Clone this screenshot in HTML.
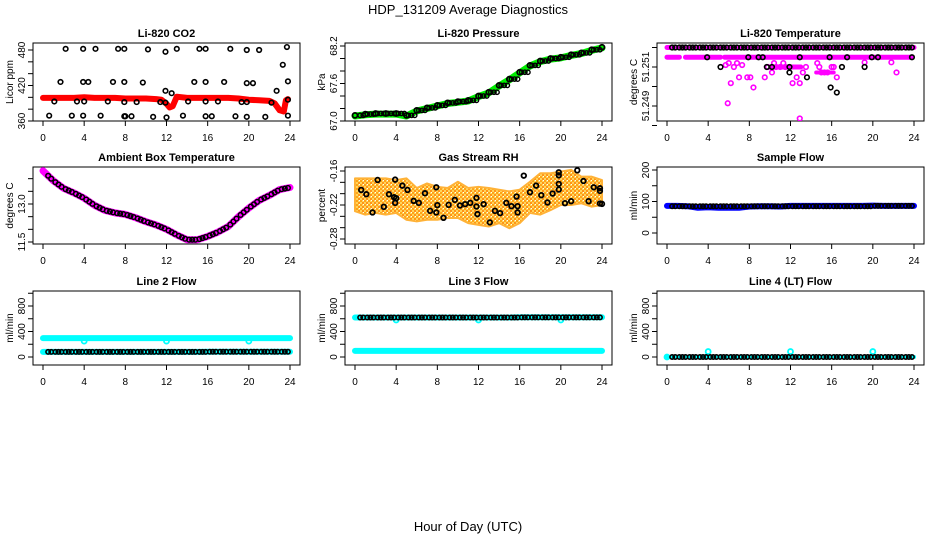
<!DOCTYPE html>
<html><head><meta charset="utf-8">
<style>
html,body{margin:0;padding:0;background:#fff;}
svg{display:block;font-family:"Liberation Sans",Arial,sans-serif;}
</style></head>
<body>
<svg id="chart" width="936" height="540" viewBox="0 0 936 540">
<text x="468" y="14" text-anchor="middle" font-size="13">HDP_131209  Average Diagnostics</text>
<text x="468" y="531" text-anchor="middle" font-size="13">Hour of Day (UTC)</text>
</svg>
<script>
// ---- shared data ----
const xTicks=[0,4,8,12,16,20,24];
const hours=[0,1,2,3,4,5,6,7,8,9,10,11,12,13,14,15,16,17,18,19,20,21,22,23,24];
const sampleTimes=[0.5,0.8,1.2,1.5,1.8,2.2,2.5,2.8,3.2,3.5,3.8,4.2,4.5,4.8,5.2,5.5,5.8,6.2,6.5,6.8,7.2,7.5,7.8,8.2,8.5,8.8,9.2,9.5,9.8,10.2,10.5,10.8,11.2,11.5,11.8,12.2,12.5,12.8,13.2,13.5,13.8,14.2,14.5,14.8,15.2,15.5,15.8,16.2,16.5,16.8,17.2,17.5,17.8,18.2,18.5,18.8,19.2,19.5,19.8,20.2,20.5,20.8,21.2,21.5,21.8,22.2,22.5,22.8,23.2,23.5,23.8];

// CO2
const co2RedTimes=[0,1,2,3,4,5,6,7,8,9,10,11,11.5,12,12.3,12.6,13,14,15,16,17,18,19,20,21,22,22.5,23,23.4,23.6,23.8];
const co2Red=[399,399,399,399,400,399,399,399,398,398,398,397,396,389,383,385,401,399,399,399,399,399,398,396,395,394,390,378,376,395,397];
const co2BlackTimes=[0.6,1.1,1.7,2.2,2.8,3.3,3.9,3.9,3.9,4,4.4,5.1,5.6,6.3,6.8,7.3,7.9,7.9,7.9,7.9,8.0,8.6,9.1,9.7,10.2,10.7,11.4,11.9,11.9,11.9,12.0,12.5,13.0,13.6,14.1,14.7,15.2,15.8,15.8,15.8,15.8,16.4,17,17.6,18.2,18.7,19.3,19.8,19.8,19.8,19.8,20.4,21,21.6,22.2,22.7,23.3,23.7,23.8,23.8,23.8];
const co2Black=[369,393,426,482,369,393,482,369,426,393,426,482,369,393,426,482,482,426,392,368,368,368,392,425,481,367,392,477,411,391,366,407,482,369,393,426,482,482,426,393,368,368,393,426,482,368,392,480,424,392,367,424,480,367,391,411,455,485,427,396,369];
const co2Ticks=[360,380,400,420,440,460,480];
const co2Labels=[360,420,480];

// Pressure
const pressGreen=[67.08,67.10,67.11,67.11,67.11,67.08,67.16,67.20,67.24,67.28,67.30,67.32,67.39,67.45,67.56,67.66,67.77,67.88,67.95,67.99,68.01,68.05,68.08,68.13,68.17];
const pressBlack=[67.09,67.11,67.12,67.12,67.12,67.09,67.17,67.21,67.25,67.29,67.31,67.33,67.40,67.46,67.57,67.67,67.78,67.89,67.96,68.00,68.02,68.06,68.09,68.14,68.18];
const pressTicks=[67.0,67.2,67.4,67.6,67.8,68.0,68.2];
const pressLabels=["67.0","67.6","68.2"];

// Li-820 temperature
const tempMagTimes=[5.7,5.9,6.2,6.5,7.0,7.3,7.8,8.1,8.4,9.5,9.8,10.2,10.6,11.0,11.5,12.2,12.6,12.9,12.9,13.2,13.5,14.6,15.0,15.3,15.6,16.0,16.5,19.2,21.8,22.3,6.0,6.8,10.4,11.3,14.8,16.2];
const tempMag=[51.2511,51.24914,51.25017,51.251,51.25047,51.2511,51.25047,51.25047,51.24995,51.25047,51.251,51.25072,51.251,51.251,51.251,51.25017,51.25047,51.25017,51.24836,51.25072,51.251,51.2512,51.25072,51.25072,51.25072,51.251,51.25047,51.25124,51.25124,51.25072,51.2512,51.2512,51.2512,51.2512,51.251,51.251];
const tempBlack2Times=[3.9,7.9,8.9,9.3,12.9,15.8,17.5,19.9,20.5,23.8];
const tempBlack3Times=[5.2,9.7,10.2,11.9,17.0,19.2];
const tempBlackLowTimes=[11.9,13.6,15.9,16.5];
const tempBlackLow=[51.25072,51.25047,51.24995,51.24969];
const tempTicks=[51.248,51.249,51.250,51.251,51.252];
const tempLabels=["51.249","51.251"];

// Ambient box temperature
const ambMag=[14.31,13.92,13.62,13.44,13.23,12.95,12.75,12.65,12.59,12.46,12.30,12.17,12.00,11.78,11.59,11.59,11.72,11.89,12.11,12.50,12.84,13.14,13.34,13.57,13.65];
const ambTicks=[11.5,12.0,12.5,13.0,13.5,14.0];
const ambLabels=["11.5","13.0"];

// Gas stream RH
const rhUpper=[-0.173,-0.173,-0.173,-0.173,-0.176,-0.173,-0.190,-0.182,-0.188,-0.190,-0.179,-0.190,-0.188,-0.190,-0.193,-0.196,-0.193,-0.179,-0.164,-0.164,-0.161,-0.158,-0.170,-0.170,-0.176];
const rhLower=[-0.231,-0.237,-0.234,-0.237,-0.234,-0.246,-0.249,-0.246,-0.246,-0.243,-0.243,-0.252,-0.255,-0.258,-0.252,-0.261,-0.252,-0.234,-0.237,-0.229,-0.220,-0.220,-0.217,-0.223,-0.220];
const rhBlackTimes=[0.6,1.1,1.7,2.2,2.8,3.3,3.8,3.9,3.9,4,4.6,5.1,5.7,6.2,6.8,7.3,7.9,7.9,8,8.6,9.1,9.7,10.2,10.7,11.2,11.8,11.8,11.9,12.5,13.1,13.6,14.1,14.7,15.2,15.7,15.8,15.8,16.4,17.0,17.6,18.1,18.7,19.2,19.8,19.8,19.8,19.8,20.4,21.0,21.6,22.2,22.7,23.2,23.8,23.8,23.8,24.0];
const rhBlack=[-0.1934,-0.2010,-0.2332,-0.1758,-0.2232,-0.2010,-0.2063,-0.1752,-0.2162,-0.2080,-0.1858,-0.1934,-0.2127,-0.2162,-0.1992,-0.2303,-0.1887,-0.2332,-0.2203,-0.2426,-0.2197,-0.2109,-0.2209,-0.2185,-0.2162,-0.2074,-0.2226,-0.2361,-0.2185,-0.2507,-0.2303,-0.2344,-0.2162,-0.2221,-0.2051,-0.2221,-0.2332,-0.1682,-0.1975,-0.1858,-0.2027,-0.2156,-0.1998,-0.1928,-0.1828,-0.1623,-0.1676,-0.2168,-0.2133,-0.1588,-0.1776,-0.2133,-0.1887,-0.1904,-0.1951,-0.2174,-0.2180];
const rhTicks=[-0.28,-0.26,-0.24,-0.22,-0.20,-0.18,-0.16];
const rhLabels=["-0.28","-0.22","-0.16"];

// Sample flow
const sampleBlue=[86,86,85,80,82,80,80,80,84,85,85,84,86,86,86,86,86,86,86,86,87,86,86,86,86];
const sampleBlack=[85,85,85,85,85,85,85,85,85,85,85,85,85,85,85,85,85,85,85,85,86,86,86,86,86];
const sampleTicks=[0,50,100,150,200];
const sampleLabels=[0,100,200];

// Line flows
const flowTicks=[0,200,400,600,800,1000];
const flowLabels=[0,400,800];
const line2CyanHigh=[296,296,296,296,296,296,296,296,296,296,296,296,296,296,296,296,296,296,296,296,296,296,296,296,296];
const line2DipTimes=[4,12,20];
const line2Dip=[250,250,250];
const line2Low=[80,80,80,80,80,80,80,80,80,80,80,80,80,80,80,80,82,82,82,82,82,82,82,82,82];
const line3CyanHigh=[620,620,620,620,620,620,620,620,620,620,620,620,620,620,620,620,622,622,622,622,622,622,622,622,622];
const line3DipTimes=[4,12,20];
const line3Dip=[580,580,580];
const line3Low=[95,95,95,95,95,95,95,95,95,95,95,95,95,95,95,95,95,95,95,95,95,95,95,95,95];
const line4Black=[0,0,0,0,0,0,0,0,0,0,0,0,0,0,0,0,0,0,0,0,0,0,0,0,0];
const line4CyanTimes=[0,4,12,20];
const line4Cyan=[0,85,85,85];

// ---- drawing ----
const NS="http://www.w3.org/2000/svg";
const svg=document.getElementById('chart');
const rowTop=[43,167,291], rowBot=[121,244,365];
function mk(tag,attrs,parent){const e=document.createElementNS(NS,tag);for(const k in attrs)e.setAttribute(k,attrs[k]);(parent||svg).appendChild(e);return e;}
function sxf(c){return t=>43+312*c+t*(247/24);}
function syf(v1,p1,v2,p2){return v=>p1+(v-v1)*(p2-p1)/(v2-v1);}

function panel(c,r,title,ylab,sy,ticks,labels,name){
  const g=mk('g',{});
  
  
  const x0=33+312*c,x1=300+312*c,y0=rowTop[r],y1=rowBot[r];
  const sx=sxf(c);
  const box=mk('rect',{x:x0,y:y0,width:x1-x0,height:y1-y0,fill:'none',stroke:'#000','stroke-width':1},g);
  
  
  const t=mk('text',{x:(x0+x1)/2,y:y0-6,'text-anchor':'middle','font-size':11,'font-weight':'bold'},g);
  t.textContent=title;
  
  
  const yl=mk('text',{x:0,y:0,'text-anchor':'middle','font-size':10,transform:`translate(${x0-20},${(y0+y1)/2}) rotate(-90)`},g);
  yl.textContent=ylab;
  
  
  xTicks.forEach(v=>{
    const x=sx(v);
    mk('line',{x1:x,y1:y1,x2:x,y2:y1+5,stroke:'#000'},g);
    const tx=mk('text',{x:x,y:y1+20,'text-anchor':'middle','font-size':10},g);
    tx.textContent=v;
    
    
  });
  ticks.forEach(v=>{const y=sy(v);mk('line',{x1:x0,y1:y,x2:x0-5,y2:y,stroke:'#000'},g);});
  labels.forEach(v=>{
    const y=sy(parseFloat(v));
    const tx=mk('text',{x:0,y:0,'text-anchor':'middle','font-size':10,transform:`translate(${x0-8},${y}) rotate(-90)`},g);
    tx.textContent=v;
    
    
  });
  const clip=mk('clipPath',{id:'clip'+name},g);
  mk('rect',{x:x0,y:y0,width:x1-x0,height:y1-y0},clip);
  const d=mk('g',{'clip-path':`url(#clip${name})`},g);
  return {g:d,sx,sy};
}
function band(P,ts,vs,color,w,name){
  const pts=ts.map((t,i)=>P.sx(t).toFixed(1)+','+P.sy(vs[i]).toFixed(1)).join(' ');
  const e=mk('polyline',{points:pts,fill:'none',stroke:color,'stroke-width':w,'stroke-linejoin':'round','stroke-linecap':'round'},P.g);
  
  
}
function pts(P,ts,vs,stroke,r,sw,name){
  ts.forEach((t,i)=>{
    const e=mk('circle',{cx:P.sx(t),cy:P.sy(vs[i]),r:r,fill:'none',stroke:stroke,'stroke-width':sw},P.g);
    
    
  });
}
function stepVal(arr,t){return arr[Math.min(24,Math.floor(t))];}

// Panel 1: CO2
let P=panel(0,0,'Li-820 CO2','Licor ppm',syf(360,121,480,50),co2Ticks,co2Labels,'co2');
band(P,co2RedTimes,co2Red,'#ff0000',6,'co2-red-series');
pts(P,co2BlackTimes,co2Black,'#000',2.3,1.6,'co2-black-point');

// Panel 2: Pressure
P=panel(1,0,'Li-820 Pressure','kPa',syf(67.0,121,68.2,46),pressTicks,pressLabels,'pressure');
band(P,hours,pressGreen,'#00ee00',7,'pressure-green-series');
pts(P,hours,pressBlack,'#000',2.5,1.8,'pressure-black-point');
pts(P,sampleTimes,sampleTimes.map(t=>stepVal(pressBlack,t)),'#000',2.2,1.4,'pressure-black-point');

// Panel 3: Li-820 temperature
P=panel(2,0,'Li-820 Temperature','degrees C',syf(51.249,106,51.251,67),tempTicks,tempLabels,'li820temp');
band(P,[0,24],[51.252,51.252],'#ff00ff',5,'temp-magenta-top');
band(P,[0,1.2],[51.2515,51.2515],'#ff00ff',5,'temp-magenta-row2');
band(P,[1.8,5.2],[51.2515,51.2515],'#ff00ff',5,'temp-magenta-row2');
band(P,[5.6,23.8],[51.2515,51.2515],'#ff00ff',5,'temp-magenta-row2');
band(P,[10.2,13.0],[51.251,51.251],'#ff00ff',5,'temp-magenta-row3');
band(P,[14.5,16.2],[51.25072,51.25072],'#ff00ff',4,'temp-magenta-row3');
pts(P,tempMagTimes,tempMag,'#ff00ff',2.3,1.6,'temp-magenta-point');
pts(P,sampleTimes,sampleTimes.map(()=>51.252),'#000',2.3,1.6,'temp-black-point');
pts(P,tempBlack2Times,tempBlack2Times.map(()=>51.2515),'#000',2.3,1.6,'temp-black-point');
pts(P,tempBlack3Times,tempBlack3Times.map(()=>51.251),'#000',2.3,1.6,'temp-black-point');
pts(P,tempBlackLowTimes,tempBlackLow,'#000',2.3,1.6,'temp-black-point');

// Panel 4: Ambient
P=panel(0,1,'Ambient Box Temperature','degrees C',syf(11.5,242,13.0,204),ambTicks,ambLabels,'ambient');
band(P,hours,ambMag,'#ff00ff',7,'ambient-magenta-series');
pts(P,sampleTimes,sampleTimes.map(t=>{const i=Math.min(23,Math.floor(t));const f=t-i;return ambMag[i]*(1-f)+ambMag[i+1]*f;}),'#000',2.3,1.5,'ambient-black-point');

// Panel 5: RH
P=panel(1,1,'Gas Stream RH','percent',syf(-0.16,171,-0.28,239),rhTicks,rhLabels,'rh');
{
  const up=hours.map((t,i)=>P.sx(t)+','+P.sy(rhUpper[i])).join(' ');
  const lo=hours.slice().reverse().map(t=>P.sx(t)+','+P.sy(rhLower[t])).join(' ');
  const defs=mk('defs',{},P.g);
  const pat=mk('pattern',{id:'rhpat',width:4,height:4,patternUnits:'userSpaceOnUse'},defs);
  mk('rect',{width:4,height:4,fill:'#ffd24a'},pat);
  mk('rect',{width:2,height:2,fill:'#ff9900'},pat);
  mk('rect',{x:2,y:2,width:2,height:2,fill:'#ff8800'},pat);
  mk('rect',{x:3,y:0,width:1,height:1,fill:'#ffffff'},pat);
  const e=mk('polygon',{points:up+' '+lo,fill:'url(#rhpat)',stroke:'#ffaa22','stroke-width':2,'stroke-linejoin':'round',opacity:0.9},P.g);
  
  
}
pts(P,rhBlackTimes,rhBlack,'#000',2.3,1.8,'rh-black-point');

// Panel 6: Sample flow
P=panel(2,1,'Sample Flow','ml/min',syf(0,233,200,170),sampleTicks,sampleLabels,'sampleflow');
band(P,hours,sampleBlue,'#0000ff',6,'sample-blue-series');
pts(P,sampleTimes,sampleTimes.map(t=>stepVal(sampleBlack,t)),'#000',2.2,1.6,'sample-black-point');

// Panel 7: Line 2
const flowY=syf(0,357,800,306);
P=panel(0,2,'Line 2 Flow','ml/min',flowY,flowTicks,flowLabels,'line2');
band(P,hours,line2CyanHigh,'#00ffff',6,'line2-cyan-high');
band(P,hours,line2Low,'#00ffff',6,'line2-cyan-low');
pts(P,line2DipTimes,line2Dip,'#00ffff',2.5,1.8,'line2-cyan-dip');
pts(P,sampleTimes,sampleTimes.map(t=>stepVal(line2Low,t)),'#000',2.2,1.6,'line2-black-point');

// Panel 8: Line 3
P=panel(1,2,'Line 3 Flow','ml/min',flowY,flowTicks,flowLabels,'line3');
band(P,hours,line3CyanHigh,'#00ffff',6,'line3-cyan-high');
band(P,hours,line3Low,'#00ffff',6,'line3-cyan-low');
pts(P,line3DipTimes,line3Dip,'#00ffff',2.5,1.8,'line3-cyan-dip');
pts(P,sampleTimes,sampleTimes.map(t=>stepVal(line3CyanHigh,t)),'#000',2.2,1.6,'line3-black-point');

// Panel 9: Line 4
P=panel(2,2,'Line 4 (LT) Flow','ml/min',flowY,flowTicks,flowLabels,'line4');
band(P,hours,line4Black,'#00ffff',4,'line4-cyan-base');
pts(P,line4CyanTimes,line4Cyan,'#00ffff',2.5,1.8,'line4-cyan-point');
pts(P,sampleTimes,sampleTimes.map(t=>stepVal(line4Black,t)),'#000',2.2,1.6,'line4-black-point');
</script>
</body></html>
